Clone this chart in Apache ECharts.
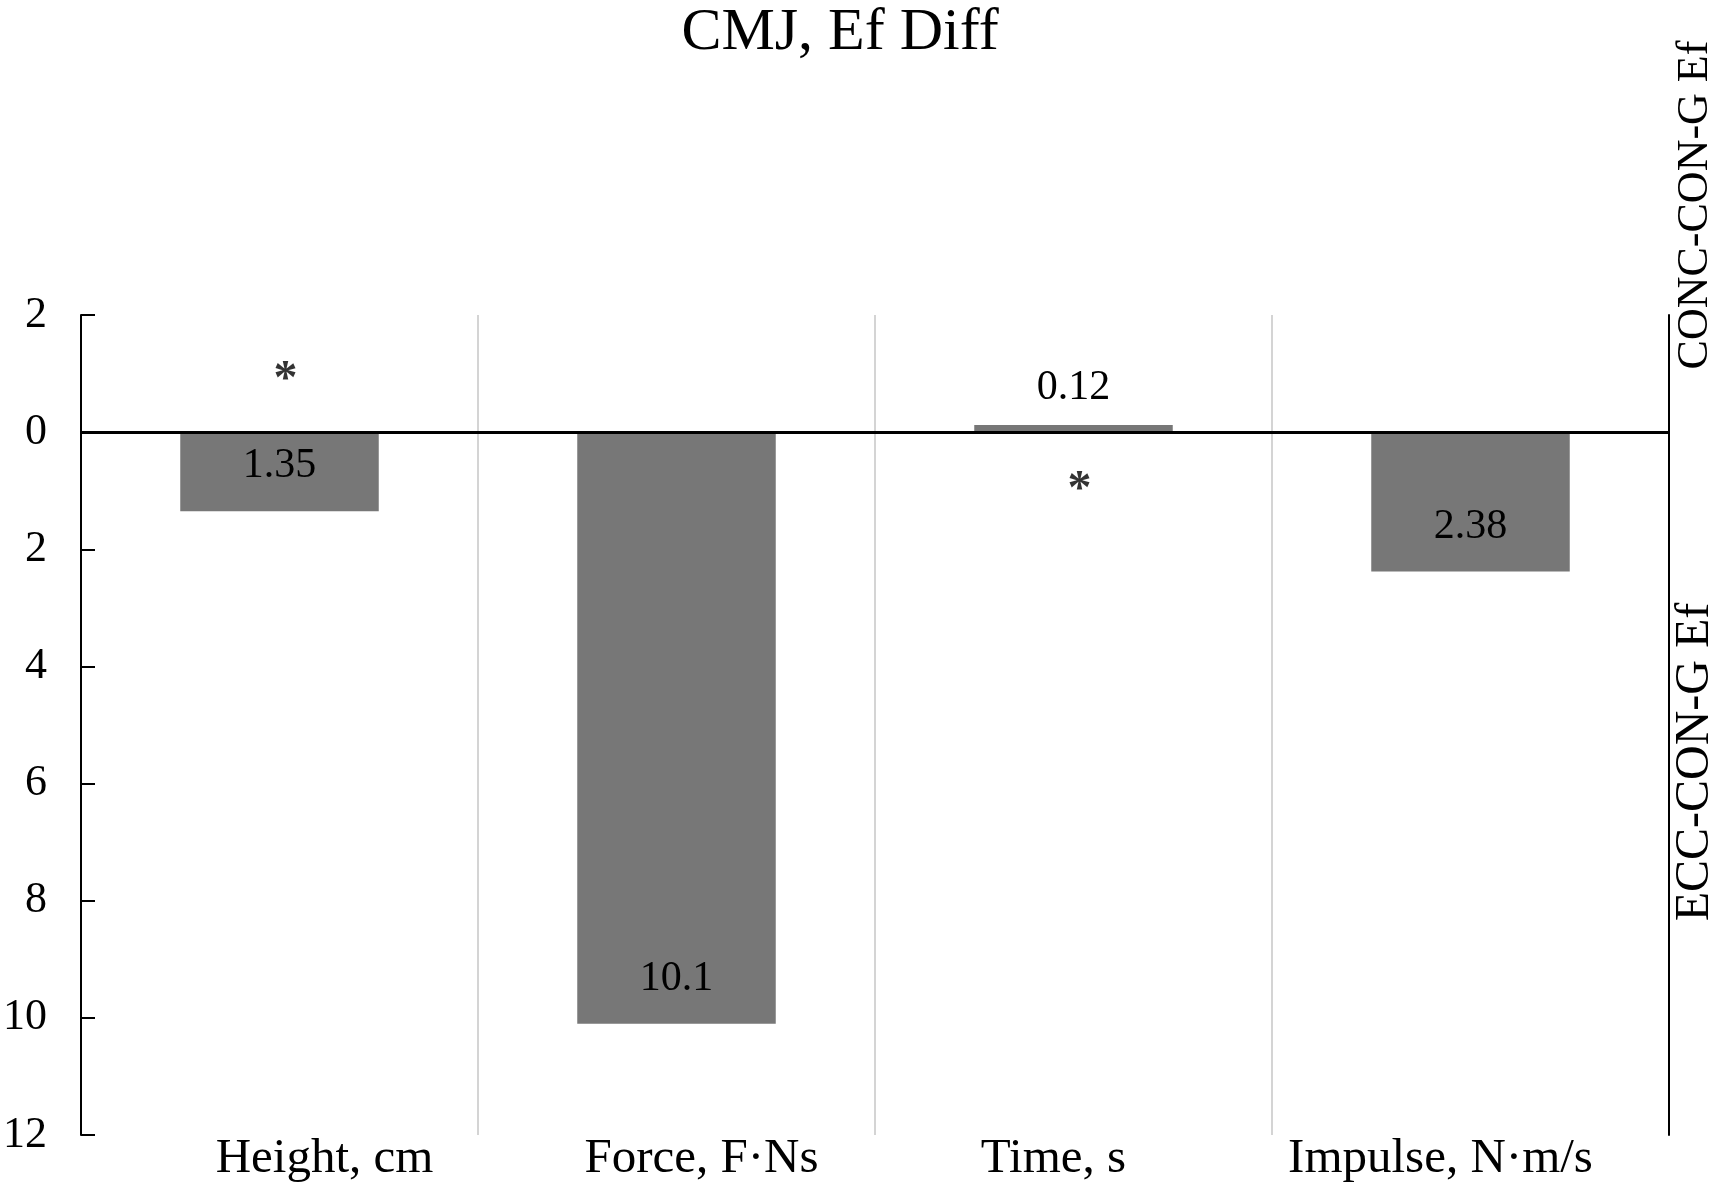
<!DOCTYPE html>
<html>
<head>
<meta charset="utf-8">
<script src="https://cdn.jsdelivr.net/npm/echarts@6/dist/echarts.min.js"></script>
<style>html,body{margin:0;padding:0;background:#fff;}#c{width:1714px;height:1184px;}</style>
</head>
<body>
<div id="c"></div>
<script>
// Data (positive = ECC-CON-G Ef direction, drawn downward; negative = CONC-CON-G Ef, drawn upward)
const categories = ['Height, cm', 'Force, F·Ns', 'Time, s', 'Impulse, N·m/s'];
const efDiff = [1.35, 10.1, -0.12, 2.38];
const asteriskCategory = ['Height, cm', 'Time, s'];
const asteriskValue = [-1.03, 0.85];
const yTicks = [-2, 0, 2, 4, 6, 8, 10, 12];

const FONT = "'Liberation Serif', 'Times New Roman', serif";
const chart = echarts.init(document.getElementById('c'));

const labelShift = [[0,0,0,90],[0,0,0,50],[0,40,0,0],[0,60,0,0]];
const rich = {};
labelShift.forEach((p, i) => {
  rich['s' + i] = { padding: p, fontSize: 49, fontFamily: FONT, color: '#000' };
});

const barData = efDiff.map(v => ({
  value: v,
  label: v >= 0
    ? { position: 'insideBottom', distance: 24 }
    : { position: 'top', distance: 16 }
}));

chart.setOption({
  animation: false,
  backgroundColor: '#fff',
  title: {
    text: 'CMJ, Ef Diff',
    left: 840,
    textAlign: 'center',
    top: 3,
    padding: 0,
    textStyle: { fontFamily: FONT, fontSize: 60, fontWeight: 'normal', color: '#000' }
  },
  grid: { left: 77, right: 45, top: 315, bottom: 46, containLabel: false },
  xAxis: {
    type: 'category',
    data: categories,
    axisLine: { show: false },
    axisTick: { show: false },
    splitLine: { show: true, lineStyle: { color: '#d4d4d4', width: 2 } },
    axisLabel: {
      margin: 0,
      interval: 0,
      formatter: (v, i) => '{s' + i + '|' + v + '}',
      rich: rich
    }
  },
  yAxis: [
    {
      type: 'value',
      min: -2, max: 12, interval: 2,
      inverse: true,
      axisLine: { show: true, lineStyle: { color: '#000', width: 2 } },
      axisTick: { show: true, inside: true, length: 14, lineStyle: { color: '#000', width: 2 } },
      splitLine: { show: false },
      axisLabel: {
        margin: 34,
        fontFamily: FONT, fontSize: 44, color: '#000',
        customValues: yTicks,
        formatter: v => String(Math.abs(v))
      }
    },
    {
      type: 'value',
      position: 'right',
      min: -2, max: 12, interval: 2,
      inverse: true,
      axisLine: { show: true, lineStyle: { color: '#000', width: 2 } },
      axisTick: { show: false },
      axisLabel: { show: false },
      splitLine: { show: false }
    }
  ],
  series: [
    {
      type: 'bar',
      data: barData,
      barWidth: '50%',
      itemStyle: { color: '#777777' },
      label: {
        show: true,
        fontFamily: FONT, fontSize: 42, color: '#000',
        formatter: p => String(Math.abs(p.value))
      },
      markLine: {
        silent: true,
        symbol: 'none',
        label: { show: false },
        lineStyle: { color: '#000', width: 3, type: 'solid' },
        data: [{ yAxis: 0 }]
      },
      z: 2
    },
    {
      type: 'scatter',
      data: asteriskCategory.map((c, i) => [c, asteriskValue[i]]),
      symbolSize: 1,
      itemStyle: { color: 'rgba(0,0,0,0)' },
      label: {
        show: true,
        position: 'inside',
        offset: [6, 9],
        formatter: '*',
        fontFamily: FONT, fontSize: 48, fontWeight: 'bold', color: '#000'
      },
      silent: true,
      z: 3
    }
  ],
  graphic: [
    {
      type: 'text', x: 1695, y: 205, rotation: Math.PI / 2,
      style: { text: 'CONC-CON-G Ef', font: "44px 'Liberation Serif', serif", fill: '#000', textAlign: 'center', textVerticalAlign: 'middle' }
    },
    {
      type: 'text', x: 1695, y: 762, rotation: Math.PI / 2,
      style: { text: 'ECC-CON-G Ef', font: "48px 'Liberation Serif', serif", fill: '#000', textAlign: 'center', textVerticalAlign: 'middle' }
    }
  ]
});
</script>
</body>
</html>
